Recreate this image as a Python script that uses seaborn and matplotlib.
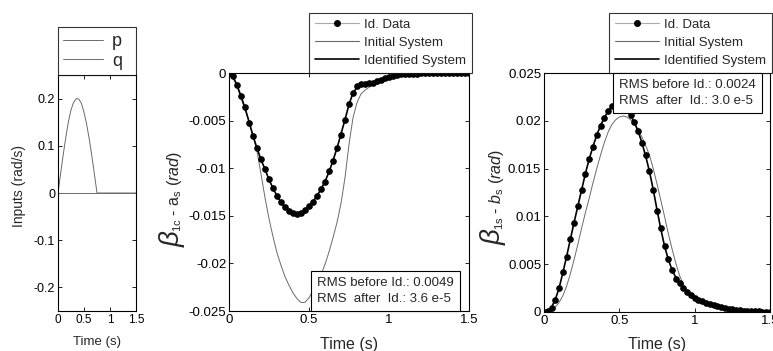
import numpy as np
import pandas as pd
import matplotlib
matplotlib.use("Agg")
import matplotlib.pyplot as plt
import seaborn as sns
from matplotlib.lines import Line2D

sns.set_theme(style="ticks")
plt.rcParams["font.family"] = ["Liberation Sans", "DejaVu Sans"]
plt.rcParams["axes.unicode_minus"] = False
plt.rcParams["mathtext.fontset"] = "custom"
plt.rcParams["mathtext.rm"] = "Liberation Sans"
plt.rcParams["mathtext.it"] = "Liberation Sans:italic"
plt.rcParams["mathtext.sf"] = "Liberation Sans"

# ---------------- data ----------------
t_in = np.linspace(0, 1.5, 31)
p_in = [0.0, 0.041, 0.081, 0.118, 0.151, 0.176, 0.192, 0.200, 0.199, 0.190,
        0.171, 0.146, 0.115, 0.079, 0.040, 0.0, 0.0, 0.0, 0.0, 0.0,
        0.0, 0.0, 0.0, 0.0, 0.0, 0.0, 0.0, 0.0, 0.0, 0.0, 0.0]
q_in = [0.0] * 31

t = np.linspace(0, 1.5, 61)

b1c_data = [0, -0.0003, -0.0013, -0.0024, -0.0036, -0.0053, -0.0066, -0.0079, -0.0090, -0.0101,
            -0.0111, -0.0121, -0.0129, -0.0135, -0.0141, -0.0145, -0.0147, -0.0148, -0.0147, -0.0144,
            -0.0140, -0.0135, -0.0129, -0.0122, -0.0115, -0.0103, -0.0092, -0.0079, -0.0065, -0.0049,
            -0.0033, -0.0021, -0.0014, -0.0012, -0.0012, -0.0011, -0.0010, -0.0008, -0.0007, -0.0005,
            -0.0004, -0.0003, -0.0002, -0.00015, -0.0001, -0.0001, -0.00008, -0.00006, -0.00005, -0.00004,
            -0.00003, -0.00003, -0.00002, -0.00002, -0.00001, -0.00001, -0.00001, 0, 0, 0, 0]
b1c_ident = [0, -0.0004, -0.0013, -0.0025, -0.0037, -0.0051, -0.0066, -0.0079, -0.0091, -0.0101,
             -0.0112, -0.0121, -0.0129, -0.0136, -0.0141, -0.0145, -0.0147, -0.0148, -0.0147, -0.0144,
             -0.0140, -0.0135, -0.0129, -0.0122, -0.0114, -0.0104, -0.0092, -0.0079, -0.0064, -0.0049,
             -0.0033, -0.0021, -0.0015, -0.0012, -0.0012, -0.0011, -0.0010, -0.0008, -0.0007, -0.0005,
             -0.0004, -0.0003, -0.0002, -0.00015, -0.0001, -0.0001, -0.00008, -0.00006, -0.00005, -0.00004,
             -0.00003, -0.00003, -0.00002, -0.00002, -0.00001, -0.00001, -0.00001, 0, 0, 0, 0]
b1c_init = [0, -0.0003, -0.0012, -0.0023, -0.0036, -0.0051, -0.0066, -0.0082, -0.0106, -0.0131,
            -0.0153, -0.0172, -0.0189, -0.0202, -0.0214, -0.0223, -0.0231, -0.0237, -0.0241, -0.0241,
            -0.0236, -0.0229, -0.0222, -0.0212, -0.0201, -0.0188, -0.0173, -0.0157, -0.0137, -0.0110,
            -0.0075, -0.0047, -0.0031, -0.0022, -0.0018, -0.0015, -0.0013, -0.0011, -0.0009, -0.0007,
            -0.0005, -0.0004, -0.0003, -0.0002, -0.00015, -0.0001, -0.00008, -0.00006, -0.00005, -0.00004,
            -0.00003, -0.00003, -0.00002, -0.00002, -0.00001, -0.00001, -0.00001, 0, 0, 0, 0]

b1s_data = [0, 0.0001, 0.0004, 0.0013, 0.0025, 0.0042, 0.0058, 0.0076, 0.0093, 0.0111,
            0.0128, 0.0144, 0.0160, 0.0173, 0.0185, 0.0195, 0.0203, 0.0210, 0.0215, 0.0218,
            0.0219, 0.0217, 0.0212, 0.0206, 0.0199, 0.0189, 0.0177, 0.0164, 0.0148, 0.0128,
            0.0106, 0.0088, 0.0069, 0.0055, 0.0044, 0.0035, 0.0030, 0.0025, 0.0021, 0.0018,
            0.0015, 0.0013, 0.0011, 0.0009, 0.0008, 0.0007, 0.0006, 0.0005, 0.0004, 0.0003,
            0.0003, 0.0002, 0.0002, 0.00015, 0.0001, 0.0001, 0.0001, 0.0001, 0.00005, 0.00005, 0.00005]
b1s_ident = [0, 0.0001, 0.0005, 0.0013, 0.0025, 0.0041, 0.0058, 0.0076, 0.0094, 0.0111,
             0.0128, 0.0145, 0.0160, 0.0173, 0.0185, 0.0195, 0.0203, 0.0210, 0.0215, 0.0218,
             0.0219, 0.0217, 0.0213, 0.0206, 0.0198, 0.0189, 0.0177, 0.0163, 0.0147, 0.0128,
             0.0107, 0.0087, 0.0069, 0.0055, 0.0044, 0.0036, 0.0030, 0.0025, 0.0021, 0.0018,
             0.0015, 0.0013, 0.0011, 0.0009, 0.0008, 0.0007, 0.0006, 0.0005, 0.0004, 0.0003,
             0.0003, 0.0002, 0.0002, 0.00015, 0.0001, 0.0001, 0.0001, 0.0001, 0.00005, 0.00005, 0.00005]
b1s_init = [0, 0.00005, 0.0002, 0.0005, 0.0010, 0.0017, 0.0027, 0.0040, 0.0055, 0.0071,
            0.0088, 0.0104, 0.0119, 0.0135, 0.0150, 0.0164, 0.0177, 0.0188, 0.0196, 0.0201,
            0.0204, 0.0205, 0.0204, 0.0201, 0.0197, 0.0191, 0.0183, 0.0174, 0.0164, 0.0150,
            0.0134, 0.0117, 0.0100, 0.0082, 0.0066, 0.0051, 0.0038, 0.0029, 0.0022, 0.0017,
            0.0013, 0.0010, 0.0009, 0.0008, 0.0007, 0.0006, 0.0005, 0.0005, 0.0004, 0.0003,
            0.0003, 0.0002, 0.0002, 0.00015, 0.0001, 0.0001, 0.0001, 0.0001, 0.00005, 0.00005, 0.00005]

x_ticks = [0, 0.5, 1, 1.5]
x_ticklabels = ["0", "0.5", "1", "1.5"]
in_yticks = [-0.2, -0.1, 0, 0.1, 0.2]
in_yticklabels = ["-0.2", "-0.1", "0", "0.1", "0.2"]
c_yticks = [-0.025, -0.02, -0.015, -0.01, -0.005, 0]
c_yticklabels = ["-0.025", "-0.02", "-0.015", "-0.01", "-0.005", "0"]
s_yticks = [0, 0.005, 0.01, 0.015, 0.02, 0.025]
s_yticklabels = ["0", "0.005", "0.01", "0.015", "0.02", "0.025"]

legend_labels = ["Id. Data", "Initial System", "Identified System"]
rms_c = "RMS before Id.: 0.0049\nRMS  after  Id.: 3.6 e-5"
rms_s = "RMS before Id.: 0.0024\nRMS  after  Id.: 3.0 e-5"

# ---------------- figure ----------------
W, H = 773, 351
fig = plt.figure(figsize=(W / 100, H / 100), dpi=100)


def fx(px):
    return px / W


def fy(py):
    return 1 - py / H


def add_ax(x0, x1, y0, y1):
    return fig.add_axes([fx(x0), fy(y1), fx(x1) - fx(x0), fy(y0) - fy(y1)])


ax1 = add_ax(58, 136, 75, 311)
ax2 = add_ax(229, 469, 73, 311)
ax3 = add_ax(544, 770, 73, 312)

THIN = "#6a6a6a"


def style(ax, fs):
    for s in ax.spines.values():
        s.set_color("black")
        s.set_linewidth(0.8)
    ax.tick_params(direction="in", length=3, width=0.6, top=True, right=True,
                   bottom=True, left=True, colors="black", labelsize=fs, pad=2)
    ax.grid(False)
    ax.set_facecolor("white")


# ---- inputs panel
df_in = pd.DataFrame({"t": t_in, "p": p_in, "q": q_in})
sns.lineplot(data=df_in, x="t", y="p", ax=ax1, color=THIN, lw=0.7, label="p")
sns.lineplot(data=df_in, x="t", y="q", ax=ax1, color=THIN, lw=0.7, label="q")
ax1.set_xlim(0, 1.5)
ax1.set_ylim(-0.25, 0.25)
ax1.set_xticks(x_ticks)
ax1.set_xticklabels(x_ticklabels)
ax1.set_yticks(in_yticks)
ax1.set_yticklabels(in_yticklabels)
style(ax1, 8.5)
ax1.tick_params(axis="y", labelsize=9)
ax1.set_xlabel("Time (s)", fontsize=9.5)
ax1.set_ylabel("Inputs (rad/s)", fontsize=10)
ax1.xaxis.set_label_coords(0.5, (311 - 342) / 236)
ax1.xaxis.label.set_va("center")
ax1.yaxis.set_label_coords((19 - 58) / 78, (311 - 186) / 236)
ax1.yaxis.label.set_va("center")
leg1 = ax1.legend(loc="lower left", bbox_to_anchor=(0, 1, 1, 0.2), mode="expand",
                  borderaxespad=0, fontsize=13, handlelength=2.2, handletextpad=0.5,
                  labelspacing=0.15, borderpad=0.3, frameon=True, fancybox=False)
leg1.get_frame().set_edgecolor("black")
leg1.get_frame().set_linewidth(0.8)


def panel(ax, ydata, yinit, yident, ylim, yticks, yticklabels):
    df = pd.DataFrame({"t": t, "data": ydata, "init": yinit, "ident": yident})
    sns.lineplot(data=df, x="t", y="init", ax=ax, color=THIN, lw=0.7)
    sns.lineplot(data=df, x="t", y="ident", ax=ax, color="black", lw=1.2)
    sns.lineplot(data=df, x="t", y="data", ax=ax, color="black", lw=0, marker="o",
                 markersize=4, markeredgecolor="black", markerfacecolor="black")
    ax.set_xlim(0, 1.5)
    ax.set_ylim(*ylim)
    ax.set_xticks(x_ticks)
    ax.set_xticklabels(x_ticklabels)
    ax.set_yticks(yticks)
    ax.set_yticklabels(yticklabels)
    style(ax, 9.5)
    ax.set_xlabel("Time (s)", fontsize=11.5)
    ax.set_ylabel("")
    ax.xaxis.label.set_va("center")
    handles = [Line2D([], [], color="#aaaaaa", lw=0.8, marker="o", ms=4,
                      mfc="black", mec="black"),
               Line2D([], [], color=THIN, lw=0.8),
               Line2D([], [], color="black", lw=1.2)]
    return handles


h2 = panel(ax2, b1c_data, b1c_init, b1c_ident, (-0.025, 0), c_yticks, c_yticklabels)
ax2.xaxis.set_label_coords(0.5, (311 - 344) / 238)
leg2 = ax2.legend(h2, legend_labels, loc="lower right", bbox_to_anchor=((472 - 229) / 240, 1.0),
                  borderaxespad=0, fontsize=9.5, handlelength=3.3, handletextpad=0.4,
                  labelspacing=0.45, borderpad=0.45, frameon=True, fancybox=False)
leg2.get_frame().set_edgecolor("black")
leg2.get_frame().set_linewidth(0.8)
ax2.text((317 - 229) / 240, (311 - 305) / 238, rms_c, transform=ax2.transAxes,
         ha="left", va="bottom", fontsize=9.5, linespacing=1.4, zorder=10,
         bbox=dict(boxstyle="square,pad=0.45", fc="white", ec="black", lw=0.8))

h3 = panel(ax3, b1s_data, b1s_init, b1s_ident, (0, 0.025), s_yticks, s_yticklabels)
ax3.xaxis.set_label_coords(0.5, (312 - 344) / 239)
leg3 = ax3.legend(h3, legend_labels, loc="lower right", bbox_to_anchor=((772 - 544) / 226, 1.0),
                  borderaxespad=0, fontsize=9.5, handlelength=3.3, handletextpad=0.4,
                  labelspacing=0.45, borderpad=0.45, frameon=True, fancybox=False)
leg3.get_frame().set_edgecolor("black")
leg3.get_frame().set_linewidth(0.8)
ax3.text((619 - 544) / 226, (312 - 79) / 239, rms_s, transform=ax3.transAxes,
         ha="left", va="top", fontsize=9.5, linespacing=1.4, zorder=10,
         bbox=dict(boxstyle="square,pad=0.45", fc="white", ec="black", lw=0.8))

# y-labels built from a large beta and the remaining text
for xc, ybeta, sub in [(172, 247, r"$_{\mathrm{1c}}$ - a$_{\mathrm{s}}$ $\mathit{(rad)}$"),
                       (493, 245, r"$_{\mathrm{1s}}$ - $\mathit{b}_{\mathrm{s}}$ $\mathit{(rad)}$")]:
    fig.text(fx(xc), fy(ybeta), r"$\mathit{\beta}$", rotation=90, ha="center", va="bottom",
             fontsize=20)
    fig.text(fx(xc + 3), fy(ybeta - 15), sub, rotation=90, ha="center", va="bottom",
             fontsize=11.5)

fig.savefig("out.png", dpi=100)
